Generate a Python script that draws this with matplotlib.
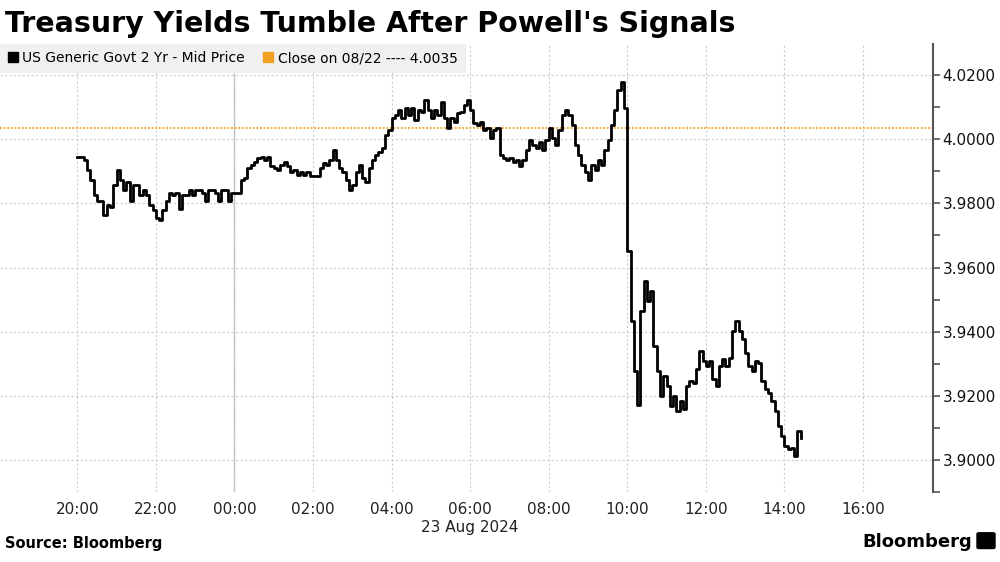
import numpy as np
import pandas as pd
import matplotlib
matplotlib.use("Agg")
import matplotlib.pyplot as plt
import matplotlib.dates as mdates
from matplotlib.lines import Line2D
from matplotlib.patches import FancyBboxPatch
from matplotlib.ticker import MultipleLocator, FormatStrFormatter

# 5-minute readings from 22 Aug 20:00 (US 2y yield)
start = "2024-08-22 20:00"
yields = [
    3.9944, 3.9944, 3.9934, 3.9903, 3.9872, 3.9825, 3.9809, 3.9809, 3.9763, 3.9794, 3.9788, 3.9856,
    3.9903, 3.9872, 3.9841, 3.9866, 3.9809, 3.9856, 3.9856, 3.9825, 3.9841, 3.9825, 3.9794, 3.9778,
    3.9753, 3.9747, 3.9778, 3.9809, 3.9834, 3.9825, 3.9834, 3.9784, 3.9825, 3.9825, 3.9841, 3.9825,
    3.9841, 3.9841, 3.9834, 3.9809, 3.9841, 3.9841, 3.9831, 3.9809, 3.9841, 3.9841, 3.9809, 3.9834,
    3.9834, 3.9834, 3.9872, 3.9878, 3.9909, 3.9919, 3.9928, 3.9941, 3.9944, 3.9934, 3.9944, 3.9916,
    3.9909, 3.9903, 3.9919, 3.9928, 3.9916, 3.9897, 3.9903, 3.9888, 3.9897, 3.9888, 3.9897, 3.9884,
    3.9884, 3.9884, 3.9909, 3.9925, 3.9919, 3.9934, 3.9966, 3.9934, 3.9909, 3.9897, 3.9872, 3.9841,
    3.9856, 3.9897, 3.9919, 3.9878, 3.9866, 3.9909, 3.9934, 3.9950, 3.9959, 3.9972, 4.0013, 4.0028,
    4.0066, 4.0075, 4.0091, 4.0066, 4.0097, 4.0075, 4.0097, 4.0059, 4.0091, 4.0084, 4.0122, 4.0091,
    4.0066, 4.0091, 4.0075, 4.0116, 4.0066, 4.0034, 4.0066, 4.0053, 4.0081, 4.0084, 4.0106, 4.0122,
    4.0091, 4.0050, 4.0044, 4.0053, 4.0028, 4.0034, 4.0003, 4.0028, 4.0034, 3.9950, 3.9941, 3.9934,
    3.9941, 3.9928, 3.9934, 3.9916, 3.9934, 3.9966, 3.9997, 3.9981, 3.9972, 3.9991, 3.9966, 3.9997,
    4.0034, 4.0003, 3.9981, 4.0028, 4.0075, 4.0091, 4.0075, 4.0044, 3.9981, 3.9950, 3.9919, 3.9897,
    3.9872, 3.9919, 3.9903, 3.9934, 3.9919, 3.9966, 3.9997, 4.0044, 4.0091, 4.0153, 4.0178, 4.0097,
    3.9653, 3.9434, 3.9278, 3.9170, 3.9466, 3.9559, 3.9497, 3.9528, 3.9356, 3.9278, 3.9200, 3.9263,
    3.9231, 3.9169, 3.9200, 3.9153, 3.9184, 3.9159, 3.9231, 3.9247, 3.9241, 3.9284, 3.9341, 3.9309,
    3.9294, 3.9309, 3.9253, 3.9231, 3.9294, 3.9316, 3.9294, 3.9319, 3.9403, 3.9434, 3.9403, 3.9378,
    3.9334, 3.9294, 3.9278, 3.9309, 3.9303, 3.9247, 3.9222, 3.9209, 3.9184, 3.9153, 3.9106, 3.9075,
    3.9044, 3.9034, 3.9038, 3.9013, 3.9091, 3.9069,
]
prev_close = 4.0035
series_label = "US Generic Govt 2 Yr - Mid Price"
close_label = "Close on 08/22 ---- 4.0035"
title = "Treasury Yields Tumble After Powell's Signals"

times = pd.date_range(start, periods=len(yields), freq="5min")

fig = plt.figure(figsize=(10, 5.62), dpi=100)
ax = fig.add_axes([0.0, 0.1246, 0.933, 0.797])

ax.plot(times, yields, color="black", lw=2.0, drawstyle="steps-post", zorder=3)
ax.axhline(prev_close, color="#f2a024", lw=1.3, ls=(0, (1, 1)), zorder=2)

ax.set_xlim(pd.Timestamp("2024-08-22 18:02"), pd.Timestamp("2024-08-23 17:47"))
ax.set_ylim(3.8900, 4.0297)

# axes styling
for s in ["left", "top", "bottom"]:
    ax.spines[s].set_visible(False)
ax.spines["right"].set_color("#555555")
ax.spines["right"].set_linewidth(1.5)
ax.yaxis.tick_right()
ax.yaxis.set_major_locator(MultipleLocator(0.02))
ax.yaxis.set_minor_locator(MultipleLocator(0.01))
ax.yaxis.set_major_formatter(FormatStrFormatter("%.4f"))
ax.tick_params(axis="y", which="both", direction="out", length=5, width=1.2,
               color="#555555", labelsize=11, pad=2, labelcolor="#111111")
ax.xaxis.set_major_locator(mdates.HourLocator(byhour=range(0, 24, 2)))
ax.xaxis.set_major_formatter(mdates.DateFormatter("%H:%M"))
ax.tick_params(axis="x", length=0, labelsize=11, pad=7, labelcolor="#222222")

ax.grid(axis="y", color="#cccccc", ls=(0, (2, 2)), lw=0.8)
ax.grid(axis="x", color="#cccccc", ls=(0, (2, 2)), lw=0.8)
ax.axvline(pd.Timestamp("2024-08-23 00:00"), color="#bbbbbb", lw=1.0, zorder=1)

ax.text(mdates.date2num(pd.Timestamp("2024-08-23 06:00")), -0.063, "23 Aug 2024",
        transform=ax.get_xaxis_transform(), ha="center", va="top", fontsize=11, color="#222222")

# legend
handles = [
    Line2D([], [], marker="s", color="none", markerfacecolor="black", markeredgecolor="black", markersize=7),
    Line2D([], [], marker="s", color="none", markerfacecolor="#f2a024", markeredgecolor="#f2a024", markersize=7),
]
leg = ax.legend(handles, [series_label, close_label], loc="upper left", ncol=2,
                bbox_to_anchor=(0.0, 1.0), borderaxespad=0, frameon=True, fancybox=False,
                facecolor="#f0f0f0", edgecolor="#f0f0f0", framealpha=1, fontsize=10,
                handlelength=0.8, handletextpad=0.3, columnspacing=1.3, borderpad=0.5)
leg.set_zorder(5)

fig.text(0.005, 0.982, title, fontsize=20.5, fontweight="bold", ha="left", va="top")
fig.text(0.005, 0.02, "Source: Bloomberg", fontsize=10.5, fontweight="bold", ha="left", va="bottom")
fig.text(0.972, 0.02, "Bloomberg", fontsize=13, fontweight="bold", ha="right", va="bottom")
fig.patches.append(FancyBboxPatch((0.979, 0.026), 0.014, 0.024, boxstyle="round,pad=0.002",
                                  transform=fig.transFigure, facecolor="black", edgecolor="black"))

fig.savefig("out.png", dpi=100)
